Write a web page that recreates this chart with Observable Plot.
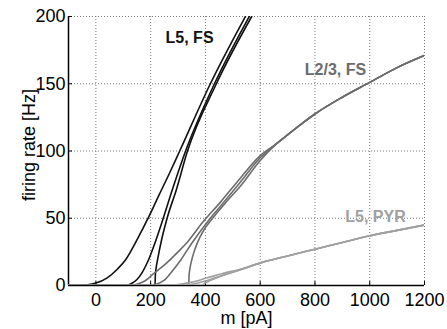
<!DOCTYPE html>
<html><head><meta charset="utf-8">
<script src="https://cdn.jsdelivr.net/npm/d3@7"></script>
<script src="https://cdn.jsdelivr.net/npm/@observablehq/plot@0.6"></script>
<style>body{margin:0;background:#fff} svg{display:block}</style>
</head><body><div id="chart"></div>
<script>
// axis ticks
const xTicks = [0, 200, 400, 600, 800, 1000, 1200];
const yTicks = [0, 50, 100, 150, 200];

// L5, FS (black) — three f-I curves [current pA, rate Hz]
const l5fsA = [[-100,0],[-60,0.1],[-30,0.5],[0,1.8],[40,5.5],[80,12.5],[108,19],[150,34],[193,51],[230,67],[270,84],[306,100],[418,150],[546,200]];
const l5fsB = [[-100,0],[110,0],[130,1.5],[150,4.5],[170,10],[190,18],[211,29],[246,50],[282,73],[324,98],[433,150],[560,200]];
const l5fsC = [[-100,0],[216,0],[217,7],[220,13],[226,20],[240,34],[260,50],[295,72],[333,99],[440,150],[569,200]];

// L2/3, FS (dark gray)
const l23fsA = [[-100,0],[120,0],[150,1],[180,3.5],[212,9],[260,17],[300,25],[333,32],[390,47],[455,62],[528,80],[600,96.5]];
const l23fsB = [[-100,0],[190,0],[220,1],[250,4],[280,11],[310,19],[352,32],[410,48],[455,59],[528,77],[600,95]];
const l23fsC = [[-100,0],[339,0],[340,7],[343,12],[350,19],[360,26],[380,36],[400,43],[430,51],[480,63],[528,74],[600,93]];
const l23fsTail = [[660,105.5],[700,112],[750,120],[800,127.5],[900,140],[1000,151],[1100,162],[1200,171]];

// L5, PYR (light gray)
const l5pyrA = [[-100,0],[260,0],[300,0.8],[350,2.5],[403,5.5],[460,8.8],[534,12.5]];
const l5pyrB = [[-100,0],[300,0],[340,0.6],[403,3.5],[460,7.5],[534,12.3]];
const l5pyrC = [[-100,0],[390,0],[395,1.2],[410,3],[440,5.5],[480,8.5],[534,12]];
const l5pyrTail = [[604,17],[700,22],[800,27],[900,32],[1000,37],[1100,41],[1200,45]];

// group labels
const groupLabels = [
  {text: "L5, FS", I: 342, rate: 184, group: "L5FS"},
  {text: "L2/3, FS", I: 875, rate: 160, group: "L23FS"},
  {text: "L5, PYR", I: 1021, rate: 51, group: "L5PYR"}
];

const colors = {L5FS: "#111111", L23FS: "#6c6c6c", L5PYR: "#a0a0a0"};

function toRows(id, group, ...parts) {
  return parts.flat().map(([I, rate]) => ({I, rate, id, group}));
}
const rowsL5FS = [
  ...toRows("a", "L5FS", l5fsA), ...toRows("b", "L5FS", l5fsB), ...toRows("c", "L5FS", l5fsC)];
const rowsL23 = [
  ...toRows("a", "L23FS", l23fsA, l23fsTail), ...toRows("b", "L23FS", l23fsB, l23fsTail), ...toRows("c", "L23FS", l23fsC, l23fsTail)];
const rowsPYR = [
  ...toRows("a", "L5PYR", l5pyrA, l5pyrTail), ...toRows("b", "L5PYR", l5pyrB, l5pyrTail), ...toRows("c", "L5PYR", l5pyrC, l5pyrTail)];

const lineOpts = (g) => ({x: "I", y: "rate", z: "id", stroke: colors[g], strokeWidth: 1.6, curve: "monotone-x", clip: true});

const chart = Plot.plot({
  width: 447, height: 329,
  marginLeft: 68, marginRight: 23, marginTop: 16, marginBottom: 44,
  style: {fontFamily: "'Liberation Sans', Arial, sans-serif", fontSize: "18px", color: "#000", background: "#fff"},
  x: {domain: [-100, 1200]},
  y: {domain: [0, 200]},
  marks: [
    Plot.gridX(xTicks, {stroke: "#777", strokeOpacity: 1, strokeDasharray: "1,2"}),
    Plot.gridY(yTicks, {stroke: "#777", strokeOpacity: 1, strokeDasharray: "1,2"}),
    Plot.axisX(xTicks, {tickSize: -4, tickPadding: 12, label: null, fontSize: 18, tickFormat: (d) => String(d)}),
    Plot.axisY(yTicks, {tickSize: -4, tickPadding: 7, label: null, fontSize: 18, tickFormat: (d) => String(d)}),
    Plot.ruleY([0], {stroke: "#000", strokeWidth: 1.5}),
    Plot.ruleX([-100], {stroke: "#000", strokeWidth: 1.5}),
    Plot.line(rowsL5FS, lineOpts("L5FS")),
    Plot.line(rowsL23, lineOpts("L23FS")),
    Plot.line(rowsPYR, lineOpts("L5PYR")),
    Plot.text(groupLabels, {x: "I", y: "rate", text: "text", fill: (d) => colors[d.group], fontWeight: "bold", fontSize: 16}),
    Plot.text(["m [pA]"], {frameAnchor: "bottom", lineAnchor: "middle", textAnchor: "middle", dy: 33, fontSize: 18}),
    Plot.text(["firing rate [Hz]"], {frameAnchor: "left", textAnchor: "middle", lineAnchor: "middle", dx: -39, dy: -6, rotate: -90, fontSize: 18})
  ]
});
document.getElementById("chart").appendChild(chart);
</script>
</body></html>
